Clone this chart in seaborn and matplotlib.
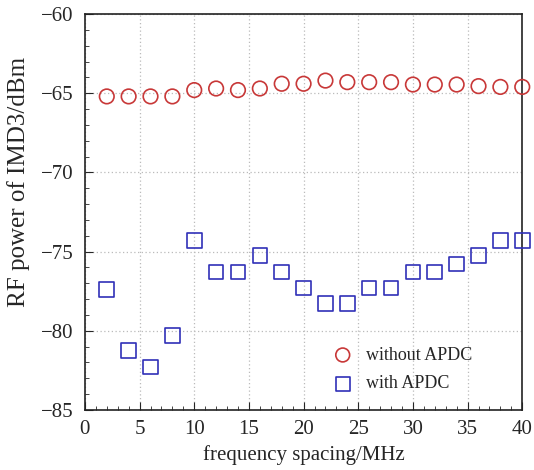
import matplotlib
matplotlib.use("Agg")
import matplotlib.pyplot as plt
from matplotlib.ticker import MultipleLocator
import seaborn as sns
import pandas as pd

# frequency spacing in MHz
spacing = [2, 4, 6, 8, 10, 12, 14, 16, 18, 20, 22, 24, 26, 28, 30, 32, 34, 36, 38, 40]
# IMD3 power in dBm
without_apdc = [-65.2, -65.2, -65.2, -65.2, -64.8, -64.7, -64.8, -64.7, -64.4, -64.4,
                -64.2, -64.3, -64.3, -64.3, -64.45, -64.45, -64.45, -64.55, -64.6, -64.6]
with_apdc = [-77.4, -81.25, -82.3, -80.3, -74.3, -76.3, -76.3, -75.25, -76.3, -77.3,
             -78.3, -78.3, -77.3, -77.3, -76.3, -76.3, -75.8, -75.25, -74.3, -74.3]

df = pd.DataFrame({
    "spacing": spacing * 2,
    "power": without_apdc + with_apdc,
    "case": ["without APDC"] * len(spacing) + ["with APDC"] * len(spacing),
})

sns.set_style("ticks")
plt.rcParams["font.family"] = ["Liberation Serif", "DejaVu Serif"]
plt.rcParams["font.size"] = 15

fig = plt.figure(figsize=(5.34, 4.70), dpi=100)
ax = fig.add_axes([0.159, 0.128, 0.819, 0.842])

red = "#c83838"
blue = "#3030b8"
ax.grid(True, which="major", linestyle=(0, (1, 2)), color="#bbbbbb", linewidth=0.9)
ax.set_axisbelow(True)

sns.scatterplot(data=df[df.case == "without APDC"], x="spacing", y="power", ax=ax,
                marker="o", s=110, facecolor="none", edgecolor=red, linewidth=1.2,
                label="without APDC", zorder=3, clip_on=False)
sns.scatterplot(data=df[df.case == "with APDC"], x="spacing", y="power", ax=ax,
                marker="s", s=110, facecolor="none", edgecolor=blue, linewidth=1.2,
                label="with APDC", zorder=3, clip_on=False)

ax.set_xlim(0, 40)
ax.set_ylim(-85, -60)
ax.xaxis.set_major_locator(MultipleLocator(5))
ax.xaxis.set_minor_locator(MultipleLocator(1))
ax.yaxis.set_major_locator(MultipleLocator(5))
ax.yaxis.set_minor_locator(MultipleLocator(1))
ax.tick_params(which="both", direction="in", top=False, right=False, labelsize=15)
ax.tick_params(which="major", length=6)
ax.tick_params(which="minor", length=3)
ax.tick_params(axis="x", which="major", pad=7)
ax.tick_params(axis="y", which="major", pad=8)
for s in ax.spines.values():
    s.set_linewidth(1.2)
    s.set_color("#222222")

ax.set_xlabel("frequency spacing/MHz", fontsize=15, labelpad=5)
ax.set_ylabel("RF power of IMD3/dBm", fontsize=18)
ax.yaxis.set_label_coords(-0.125, 0.575)

ax.legend(loc="lower right", bbox_to_anchor=(0.915, 0.012), frameon=False,
          fontsize=13, handletextpad=0.3, borderpad=0.2, labelspacing=0.65,
          markerscale=0.95)

fig.savefig("out.png", dpi=100)
